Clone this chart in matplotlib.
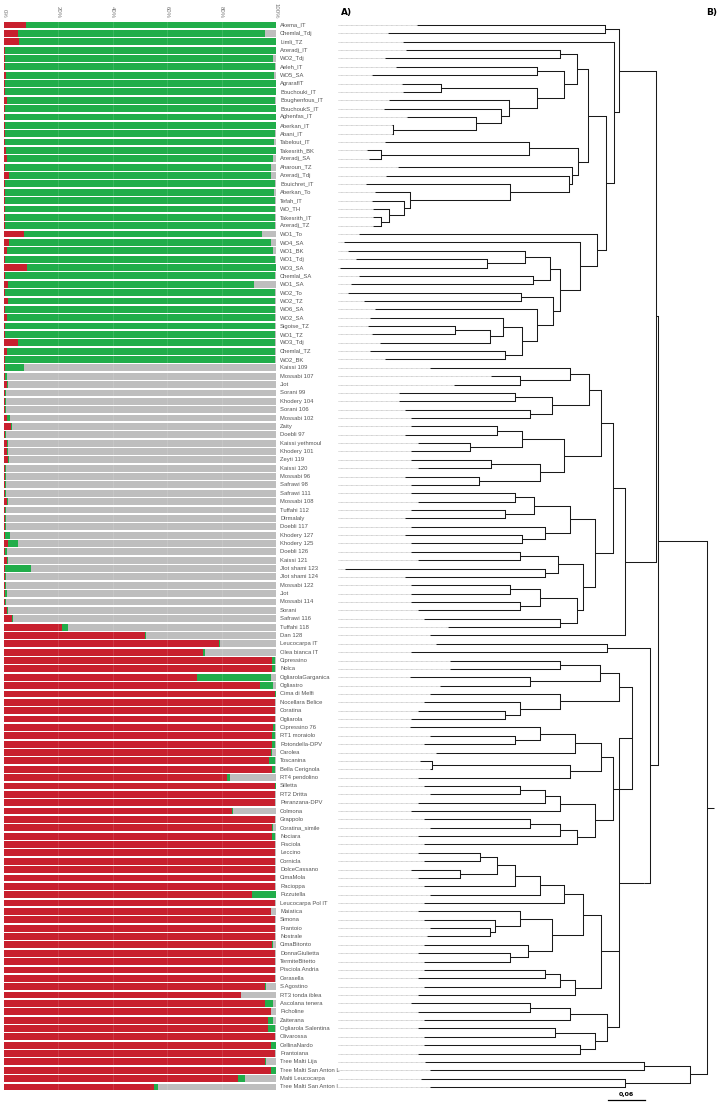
import matplotlib
matplotlib.use("Agg")
import matplotlib.pyplot as plt
import numpy as np

labels = ["Akema_IT","Chemlal_Tdj","Limli_TZ","Azeradj_IT","WO2_Tdj","Aeleh_IT","WO5_SA","AgrarafIT",
"Bouchouki_IT","Boughenfous_IT","BouchoukS_IT","Aghenfas_IT","Aberkan_IT","Abani_IT","Tabelout_IT",
"Takesrith_BK","Azeradj_SA","Aharoun_TZ","Azeradj_Tdj","Bouichret_IT","Aberkan_To","Tefah_IT","WO_TH",
"Takesrith_IT","Azeradj_TZ","WO1_To","WO4_SA","WO1_BK","WO1_Tdj","WO3_SA","Chemlal_SA","WO1_SA",
"WO2_To","WO2_TZ","WO6_SA","WO2_SA","Sigoise_TZ","WO1_TZ","WO3_Tdj","Chemlal_TZ","WO2_BK",
"Kaissi 109","Mossabi 107","Jlot","Sorani 99","Khodery 104","Sorani 106","Mossabi 102","Zaity",
"Doebli 97","Kaissi yethmoul","Khodery 101","Zeyti 119","Kaissi 120","Mossabi 96","Safrawi 98",
"Safrawi 111","Mossabi 108","Tuffahi 112","Dirmalaly","Doebli 117","Khodery 127","Khodery 125",
"Doebli 126","Kaissi 121","Jlot shami 123","Jlot shami 124","Mossabi 122","Jlot","Mossabi 114",
"Sorani","Safrawi 116","Tuffahi 118","Dan 128","Leucocarpa IT","Olea bianca IT","Cipressino","Nolca",
"OgliarolaGarganica","Ogliastro","Cima di Melfi","Nocellara Belice","Coratina","Ogliarola",
"Cipressino 76","RT1 moraiolo","Rotondella-DPV","Carolea","Toscanina","Bella Cerignola",
"RT4 pendolino","Silletta","RT2 Dritta","Peranzana-DPV","Colmona","Grappolo","Coratina_simile",
"Nociara","Pisciola","Leccino","Cornicla","DolceCassano","CimaMola","Racioppa","Pizzutella",
"Leucocarpa Pol IT","Maiatica","Simona","Frantoio","Nostrale","CimaBitonto","DonnaGiulietta",
"TermiteBitetto","Pisciola Andria","Cerasella","S.Agostino","RT3 tonda iblea","Ascolana tenera",
"Picholine","Zaiterana","Ogliarola Salentina","Olivarossa","CellinaNardo","Frantoiana",
"Tree Malti Lija","Tree Malti San Anton L","Malti Leucocarpa","Tree Malti San Anton I"]

red = [8,5,5.5,0.5,0.3,0.5,0.8,0.2,0.3,1,0.3,0.3,0.3,0.3,0.3,0.8,1,0.3,2,0.3,0.3,0.3,0.3,0.3,0.3,
       7.5,2,1,0.5,8.5,0.5,1.5,0.5,1.5,0.5,1,0.3,0.5,5,1,0.5,
       0.5,0.5,1,0.5,0.5,0.3,1.2,2.5,0.3,1,1,1.5,0.5,0.3,0.5,0.5,1,0.5,0.3,0.3,0.3,1.5,0.5,1,0.5,
       0.3,0.3,0.5,0.5,1,3,21.5,52,
       79,73,98.5,98.5,71,94,99.7,99.5,99.5,99.5,99,98.5,98.5,98,97.5,98.5,82,99.7,99.5,99.5,84,
       99.5,98.5,98.5,99.5,99.5,99.5,99.5,99.5,99.5,91,99.5,98,99.5,99.5,99.5,98.5,99.5,99.5,99.5,
       99.5,96,87,96,98,97,97,99.5,98,99.5,96,98,86,55]
green = [92,91,94.5,99.5,98.7,99,98.5,99.8,99.7,98.5,99.7,99.7,99.7,99.4,99,99.2,98,97.7,96,99.5,
         99,99.5,99.5,99.2,99.2,87.5,96,98,99,91.5,99.2,90.5,99.2,98.2,99.2,98.7,99.5,99.3,94.7,98.7,99.3,
         7,0.5,0.5,0.3,0.3,0.3,1,0.3,0.3,0.3,0.5,0.5,0.3,0.3,0.3,0.3,0.3,0.3,0.3,0.3,2,3.5,0.5,0.3,9.5,
         0.5,0.3,0.5,0.3,0.3,0.3,2,0.3,
         0.3,1,1,1,27,5,0.3,0.3,0.3,0.3,0.5,1,1,0.5,2.3,1,1,0.3,0.3,0.3,0.3,0.3,0.3,1,0.3,0.3,0.3,
         0.3,0.3,0.3,9,0.3,0.3,0.3,0.3,0.3,0.5,0.3,0.3,0.3,0.3,0.3,0.3,3,0.3,2,2.5,0.3,2,0.3,0.3,2,2.5,1.5]

pct_ticks = [0, 20, 40, 60, 80, 100]
pct_labels = ["0%", "20%", "40%", "60%", "80%", "100%"]

# tree: leaves "row:tip_height", internal nodes "(children)node_height"; heights = distance
tree_alg = ("((1:0.129,2:0.081)0.437,(3:0.107,((((4:0.111,5:0.077)0.363,((6:0.095,7:0.056)0.325,"
 "((8:0.105,9:0.107)0.168,(10:0.084,(11:0.075,(12:0.112,(13:0.088,14:0.088)0.090)0.226)0.266)0.280)0.326)0.370)0.390,"
 "((15:0.077,(16:0.048,17:0.051)0.070)0.312,(18:0.098,(19:0.078,(20:0.045,(21:0.060,(22:0.056,(23:0.057,"
 "(24:0.057,25:0.057)0.070)0.084)0.108)0.118)0.282)0.377)0.382)0.393)0.409,(26:0.035,(27:0.010,(((28:0.017,"
 "(29:0.029,30:0.003)0.244)0.306,(31:0.034,32:0.022)0.319)0.347,((33:0.016,34:0.043)0.299,(35:0.061,"
 "((36:0.052,((37:0.049,38:0.056)0.191,39:0.069)0.249)0.270,(40:0.052,41:0.077)0.273)0.300)0.325)0.352)0.363)0.396)0.423)0.438)0.452)0.459")
tree_me = ("(((((42:0.150,(43:0.250,44:0.190)0.297)0.380,((45:0.100,46:0.100)0.289,(47:0.110,48:0.120)0.314)0.350)0.410,"
 "(((49:0.120,50:0.110)0.260,(51:0.130,52:0.120)0.216)0.300,((53:0.120,54:0.130)0.250,(55:0.110,56:0.120)0.230)0.330)0.370)0.430,"
 "((((57:0.120,58:0.130)0.289,(59:0.120,60:0.110)0.273)0.320,(61:0.120,(62:0.110,63:0.120)0.300)0.338)0.380,"
 "(((64:0.120,65:0.130)0.297,(66:0.012,67:0.110)0.338)0.360,(((68:0.120,69:0.120)0.281,(70:0.120,71:0.130)0.297)0.330,"
 "(72:0.140,73:0.180)0.363)0.390)0.400)0.420)0.450,74:0.150)0.470")
tree_it = ("((75:0.160,76:0.120)0.440,((((((77:0.183,78:0.183)0.363,(79:0.118,80:0.167)0.314)0.428,"
 "(81:0.150,(82:0.140,(83:0.130,84:0.120)0.273)0.297)0.363)0.460,"
 "((((85:0.118,(86:0.150,87:0.140)0.289)0.330,88:0.160)0.387,((89:0.134,90:0.150)0.154,91:0.130)0.379)0.430,"
 "((((92:0.140,93:0.150)0.297,94:0.130)0.338,95:0.120)0.363,(((96:0.140,97:0.150)0.314,98:0.130)0.363,99:0.140)0.390)0.420)0.450)0.480,"
 "(((((((100:0.130,101:0.140)0.232,(102:0.120,103:0.130)0.199)0.260,104:0.140)0.290,105:0.150)0.330,106:0.140)0.370,"
 "((107:0.130,(108:0.140,(109:0.150,110:0.145)0.248)0.257)0.297,(111:0.140,(112:0.130,113:0.140)0.281)0.310)0.350)0.400,"
 "(((114:0.140,115:0.130)0.338,116:0.140)0.363,117:0.130)0.387)0.430,"
 "(((118:0.120,119:0.130)0.314,120:0.140)0.379,((121:0.130,122:0.140)0.355,(123:0.140,124:0.130)0.395)0.420)0.440)0.460)0.500)0.510")
tree_malti = "((125:0.142,126:0.150)0.500,(127:0.135,128:0.150)0.470)0.575"
tree_newick = "(((" + tree_alg + "," + tree_me + ")0.520," + tree_it + ")0.523," + tree_malti + ")0.603"
scale_value = 0.06

C_RED, C_GREEN, C_GREY = "#C8202E", "#21AD4A", "#BEBEBE"
LABEL_FONT = ["Liberation Sans Narrow", "Liberation Sans", "DejaVu Sans"]

W, H = 728, 1107
fig = plt.figure(figsize=(W / 100, H / 100), dpi=100)
n = len(labels)
row_px = (1087 - 25) / (n - 1)
top_px = 25 - row_px / 2
bot_px = 1087 + row_px / 2
ax_b = 1 - bot_px / H
ax_h = (bot_px - top_px) / H

# ---- A) bar chart
ax = fig.add_axes([4 / W, ax_b, 272 / W, ax_h])
y = np.arange(n)
red_a = np.array(red, float)
green_a = np.array(green, float)
grey_a = np.clip(100 - red_a - green_a, 0, None)
bh = 0.82
ax.barh(y, red_a, height=bh, color=C_RED, lw=0)
ax.barh(y, green_a, left=red_a, height=bh, color=C_GREEN, lw=0)
ax.barh(y, grey_a, left=red_a + green_a, height=bh, color=C_GREY, lw=0)
for t in pct_ticks[1:-1]:
    ax.axvline(t, color="white", lw=0.6, alpha=0.15, zorder=3)
ax.set_xlim(0, 100)
ax.set_ylim(n - 0.5, -0.5)
ax.set_yticks([])
ax.xaxis.tick_top()
ax.set_xticks(pct_ticks)
ax.set_xticklabels(pct_labels, rotation=-90, fontsize=4.3, color="#777777", family=LABEL_FONT)
ax.tick_params(axis="x", length=0, pad=2)
for s in ax.spines.values():
    s.set_visible(False)
for i, lab in enumerate(labels):
    ax.text(101.5, i, lab, fontsize=4.2, color="#555555", va="center", ha="left",
            family=LABEL_FONT, clip_on=False)
fig.text(347 / W, 1 - 12 / H, "A)", fontsize=6.5, fontweight="bold", va="center", ha="center")
fig.text(712 / W, 1 - 12 / H, "B)", fontsize=6.5, fontweight="bold", va="center", ha="center")

# ---- B) tree
x0_px, x1_px = 330, 722
unit_px = 36.7 / scale_value
axt = fig.add_axes([x0_px / W, ax_b, (x1_px - x0_px) / W, ax_h])
axt.set_xlim(-(338 - x0_px) / unit_px, (x1_px - 338) / unit_px)
axt.set_ylim(n - 0.5, -0.5)
axt.axis("off")


def parse(s):
    s = s.replace(" ", "")
    pos = [0]

    def number():
        st = pos[0]
        while pos[0] < len(s) and (s[pos[0]].isdigit() or s[pos[0]] == "."):
            pos[0] += 1
        return float(s[st:pos[0]])

    def node():
        if s[pos[0]] == "(":
            pos[0] += 1
            kids = [node()]
            while s[pos[0]] == ",":
                pos[0] += 1
                kids.append(node())
            assert s[pos[0]] == ")", (pos[0], s[pos[0]-10:pos[0]+10])
            pos[0] += 1
            return ("n", number(), kids)
        idx = int(number())
        assert s[pos[0]] == ":"
        pos[0] += 1
        return ("l", number(), idx)

    return node()


LW = 0.75
CB = "#1a1a1a"


def draw(nd, parent_h):
    if nd[0] == "l":
        t, idx = nd[1], nd[2]
        yy = idx - 1
        axt.plot([0, t], [yy, yy], color="#b5b5b5", lw=0.5, ls=(0, (1.2, 0.6)), solid_capstyle="butt")
        axt.plot([t, parent_h], [yy, yy], color=CB, lw=LW, solid_capstyle="butt")
        return yy
    h, kids = nd[1], nd[2]
    ys = [draw(k, h) for k in kids]
    axt.plot([h, h], [min(ys), max(ys)], color=CB, lw=LW, solid_capstyle="projecting")
    ym = (min(ys) + max(ys)) / 2
    axt.plot([h, parent_h], [ym, ym], color=CB, lw=LW, solid_capstyle="butt")
    return ym


root = parse(tree_newick)
draw(root, root[1] + 0.012)

# scale bar
sb_x = (608 - 338) / unit_px
yb = n + 0.6
axt.plot([sb_x, sb_x + scale_value], [yb, yb], color="black", lw=0.9, clip_on=False)
axt.text(sb_x + scale_value / 2, yb - 0.4, "0,06", fontsize=4.5, fontweight="bold",
         ha="center", va="bottom", clip_on=False)

fig.savefig("out.png", dpi=100, facecolor="white")
